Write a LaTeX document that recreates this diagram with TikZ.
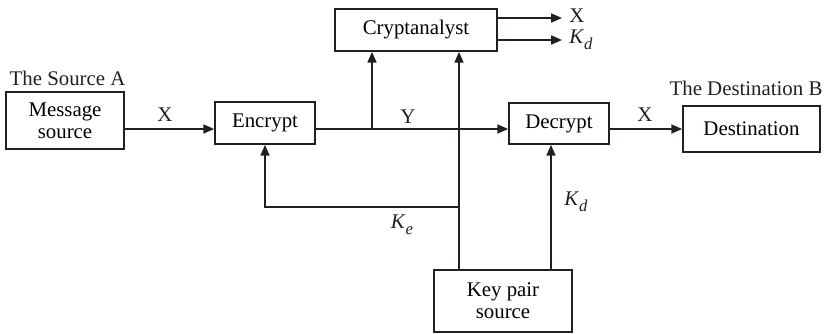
\documentclass[tikz,border=0pt]{standalone}
\usepackage{fontspec}
\setmainfont{Liberation Serif}
\usetikzlibrary{arrows.meta,positioning,calc}
\definecolor{ckink}{HTML}{231F20}
\newcommand{\keysym}[1]{\textit{K}\raisebox{-3.5pt}{\fontsize{10}{10}\selectfont\textit{#1}}}

\tikzset{
  blockbox/.style={draw=ckink,line width=1pt,inner sep=0pt,align=center,font=\fontsize{12.5}{15}\selectfont},
  arr/.style={draw=ckink,line width=1pt,-{Triangle[length=6.5pt,width=5.4pt]}},
  lbl/.style={font=\fontsize{12.5}{15}\selectfont,text=ckink,inner sep=0pt}
}

\begin{document}
\begin{tikzpicture}[x=0.6pt,y=-0.6pt]
  \useasboundingbox (0,0) rectangle (824,333);
  % blocks
  \node[blockbox,minimum width=70.8pt,minimum height=34.2pt] (src) at (65,120.5) {Message\\[-2pt]source};
  \node[blockbox,minimum width=60pt,minimum height=25.2pt] (enc) at (265,123) {Encrypt};
  \node[blockbox,minimum width=97.2pt,minimum height=25.2pt] (crypt) at (416,30) {Cryptanalyst};
  \node[blockbox,minimum width=60pt,minimum height=24.6pt] (dec) at (559,123.5) {Decrypt};
  \node[blockbox,minimum width=82.2pt,minimum height=27.6pt] (dst) at (751.5,129) {Destination};
  \node[blockbox,minimum width=82.8pt,minimum height=37.2pt] (key) at (503,301) {Key pair\\[-2pt]source};
  % titles
  \node[lbl] (srcname) at (67.5,78) {The Source A};
  \node[lbl] (dstname) at (746,88) {The Destination B};
  % helper points
  \coordinate (rail) at (0,129);
  \coordinate (tap) at (372,129);
  \coordinate (ke) at (459,207);
  \coordinate (kd) at (551,0);
  \coordinate (outX) at (562,18);
  \coordinate (outK) at (562,40);
  % main line
  \draw[arr] (src.east |- rail) -- (enc.west |- rail);
  \draw[arr] (enc.east |- rail) -- (dec.west |- rail);
  \draw[arr] (dec.east |- rail) -- (dst.west |- rail);
  \draw[arr] (tap) -- (tap |- crypt.south);
  % keys
  \draw[arr] (key.north -| ke) -- (crypt.south -| ke);
  \draw[arr] (ke) -| (enc.south);
  \draw[arr] (key.north -| kd) -- (dec.south -| kd);
  % cryptanalyst outputs
  \draw[arr] (crypt.east |- outX) -- (outX);
  \draw[arr] (crypt.east |- outK) -- (outK);
  % labels
  \node[lbl,anchor=west] (xout) at (569,16) {X};
  \node[lbl,anchor=west] (kout) at (569,40) {\keysym{d}};
  \node[lbl] (xa) at (165,115) {X};
  \node[lbl] (ya) at (408,117) {Y};
  \node[lbl] (xb) at (645,115) {X};
  \node[lbl] (kea) at (402,225) {\keysym{e}};
  \node[lbl] (kda) at (576,202) {\keysym{d}};
\end{tikzpicture}
\end{document}
